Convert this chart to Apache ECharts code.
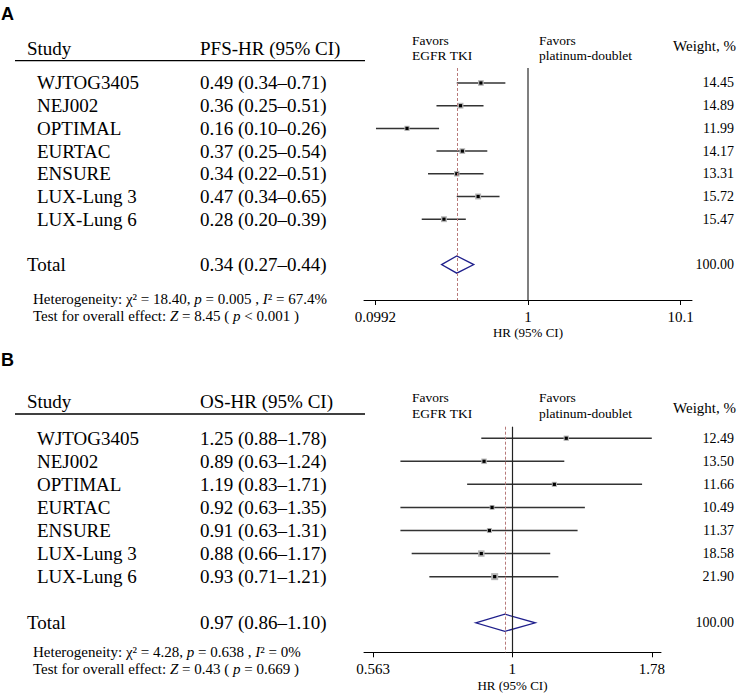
<!DOCTYPE html>
<html>
<head>
<meta charset="utf-8">
<script src="https://cdn.jsdelivr.net/npm/echarts@6/dist/echarts.min.js"></script>
<style>html,body{margin:0;padding:0;background:#fff}#c{width:738px;height:696px}</style>
</head>
<body>
<div id="c"></div>
<script>
// ---- data ----
const studies = ['WJTOG3405', 'NEJ002', 'OPTIMAL', 'EURTAC', 'ENSURE', 'LUX-Lung 3', 'LUX-Lung 6'];
const pfsHR = [0.49, 0.36, 0.16, 0.37, 0.34, 0.47, 0.28];
const pfsLo = [0.34, 0.25, 0.10, 0.25, 0.22, 0.34, 0.20];
const pfsHi = [0.71, 0.51, 0.26, 0.54, 0.51, 0.65, 0.39];
const pfsWeight = [14.45, 14.89, 11.99, 14.17, 13.31, 15.72, 15.47];
const pfsTotal = [0.34, 0.27, 0.44];
const pfsTotalWeight = 100.00;
const pfsTicks = [0.0992, 1, 10.1];
const pfsHet = ['18.40', '0.005', '67.4%'];
const pfsZ = ['8.45', '<', '0.001'];

const osHR = [1.25, 0.89, 1.19, 0.92, 0.91, 0.88, 0.93];
const osLo = [0.88, 0.63, 0.83, 0.63, 0.63, 0.66, 0.71];
const osHi = [1.78, 1.24, 1.71, 1.35, 1.31, 1.17, 1.21];
const osWeight = [12.49, 13.50, 11.66, 10.49, 11.37, 18.58, 21.90];
const osTotal = [0.97, 0.86, 1.10];
const osTotalWeight = 100.00;
const osTicks = [0.563, 1, 1.78];
const osHet = ['4.28', '0.638', '0%'];
const osZ = ['0.43', '=', '0.669'];

// ---- layout ----
const SERIF = '"Liberation Serif", "Times New Roman", serif';
const panels = [
  {label: 'A', hrTitle: 'PFS-HR (95% CI)', hr: pfsHR, lo: pfsLo, hi: pfsHi, w: pfsWeight, total: pfsTotal, tw: pfsTotalWeight,
   ticks: pfsTicks, het: pfsHet, z: pfsZ, axMin: 0.0834, axMax: 12.0,
   grid: {left: 364, width: 328, top: 68, height: 232}, yMin: -0.66, yMax: 9.56,
   refColor: '#7f7f7f', refWidth: 2, labelY: 14, headY: 48, lineY: 60.7, fav1: 40.5, fav2: 55, weightY: 45.5,
   foot1: 299, foot2: 316, nameGap: 26},
  {label: 'B', hrTitle: 'OS-HR (95% CI)', hr: osHR, lo: osLo, hi: osHi, w: osWeight, total: osTotal, tw: osTotalWeight,
   ticks: osTicks, het: osHet, z: osZ, axMin: 0.542, axMax: 1.849,
   grid: {left: 364, width: 297, top: 426.7, height: 225.6}, yMin: -0.5, yMax: 9.28,
   refColor: '#222', refWidth: 1.2, labelY: 360, headY: 401.7, lineY: 414, fav1: 397.7, fav2: 413.3, weightY: 408,
   foot1: 652, foot2: 669, nameGap: 27}
];
const TOTAL_ROW = studies.length + 1;

const chart = echarts.init(document.getElementById('c'), null, {renderer: 'svg'});

const grids = [], xAxes = [], yAxes = [], series = [];
panels.forEach((p, g) => {
  grids.push(Object.assign({outerBoundsMode: 'none', containLabel: false}, p.grid));
  xAxes.push({
    type: 'log', logBase: 10, gridIndex: g, min: p.axMin, max: p.axMax,
    name: 'HR (95% CI)', nameLocation: 'middle', nameGap: p.nameGap,
    nameTextStyle: {fontFamily: SERIF, fontSize: 13, color: '#000'},
    axisLine: {show: true, onZero: false, lineStyle: {color: '#000', width: 1}},
    axisTick: {show: true, length: 5, customValues: p.ticks, lineStyle: {color: '#000', width: 1}},
    axisLabel: {show: true, customValues: p.ticks, margin: 9, fontFamily: SERIF, fontSize: 15, color: '#000',
      formatter: v => String(Number(Number(v).toPrecision(3)))},
    splitLine: {show: false}, minorTick: {show: false}, minorSplitLine: {show: false}
  });
  yAxes.push({type: 'value', gridIndex: g, inverse: true, min: p.yMin, max: p.yMax, show: false});

  const data = studies.map((s, i) => [p.lo[i], p.hi[i], p.hr[i], i, p.w[i]]);
  series.push({
    type: 'custom', xAxisIndex: g, yAxisIndex: g, clip: false, silent: true,
    data: data,
    renderItem: (params, api) => {
      const y = api.value(3);
      const a = api.coord([api.value(0), y]);
      const b = api.coord([api.value(1), y]);
      const c = api.coord([api.value(2), y]);
      const side = 1.5 * Math.sqrt(api.value(4));
      return {type: 'group', children: [
        {type: 'line', shape: {x1: a[0], y1: a[1], x2: b[0], y2: b[1]}, style: {stroke: '#333', lineWidth: 1.5}},
        {type: 'rect', shape: {x: c[0] - side / 2, y: c[1] - side / 2, width: side, height: side}, style: {fill: '#b5b5b5'}},
        {type: 'rect', shape: {x: c[0] - 1.6, y: c[1] - 1.6, width: 3.2, height: 3.2}, style: {fill: '#000'}}
      ]};
    },
    markLine: {
      silent: true, symbol: 'none', label: {show: false}, animation: false,
      data: [
        {xAxis: 1, lineStyle: {color: p.refColor, width: p.refWidth, type: 'solid'}},
        {xAxis: p.total[0], lineStyle: {color: '#b87a7a', width: 1, type: [3, 2]}}
      ]
    }
  });
  series.push({
    type: 'custom', xAxisIndex: g, yAxisIndex: g, clip: false, silent: true,
    data: [[p.total[1], p.total[0], p.total[2], TOTAL_ROW]],
    renderItem: (params, api) => {
      const y = api.value(3);
      const l = api.coord([api.value(0), y]);
      const m = api.coord([api.value(1), y]);
      const r = api.coord([api.value(2), y]);
      const h = 8.6;
      return {type: 'polygon', shape: {points: [[l[0], l[1]], [m[0], m[1] - h], [r[0], r[1]], [m[0], m[1] + h]]},
        style: {fill: 'none', stroke: '#1f1f8c', lineWidth: 1.3}};
    }
  });
});

chart.setOption({animation: false, grid: grids, xAxis: xAxes, yAxis: yAxes, series: series});

// ---- text table ----
const fmt = v => v.toFixed(2);
const graphics = [];
function txt(text, x, y, size, opts) {
  graphics.push({type: 'text', silent: true, style: Object.assign({
    text: text, x: x, y: y, fontSize: size, fontFamily: SERIF, fill: '#000',
    textAlign: 'left', textVerticalAlign: 'middle'}, opts || {})});
}
panels.forEach((p, g) => {
  const rowY = i => chart.convertToPixel({yAxisIndex: g}, i);
  txt(p.label, 1, p.labelY, 18, {fontFamily: '"Liberation Sans", Arial, sans-serif', fontWeight: 'bold'});
  txt('Study', 27, p.headY, 19);
  txt(p.hrTitle, 200, p.headY, 19);
  graphics.push({type: 'line', silent: true, shape: {x1: 15, y1: p.lineY, x2: 365, y2: p.lineY}, style: {stroke: '#000', lineWidth: 1.3}});
  txt('Favors', 412, p.fav1, 13.5);
  txt('EGFR TKI', 412, p.fav2, 13.5);
  txt('Favors', 539, p.fav1, 13.5);
  txt('platinum-doublet', 539, p.fav2, 13.5);
  txt('Weight, %', 736, p.weightY, 15, {textAlign: 'right'});
  studies.forEach((s, i) => {
    const y = rowY(i);
    txt(s, 37, y, 19);
    txt(fmt(p.hr[i]) + ' (' + fmt(p.lo[i]) + '\u2013' + fmt(p.hi[i]) + ')', 200, y, 19);
    txt(fmt(p.w[i]), 734, y, 14, {textAlign: 'right'});
  });
  const ty = rowY(TOTAL_ROW);
  txt('Total', 27, ty, 19);
  txt(fmt(p.total[0]) + ' (' + fmt(p.total[1]) + '\u2013' + fmt(p.total[2]) + ')', 200, ty, 19);
  txt(fmt(p.tw), 734, ty, 14, {textAlign: 'right'});
  const rich = {n: {fontSize: 15, fontFamily: SERIF, fill: '#000'}, i: {fontSize: 15, fontFamily: SERIF, fontStyle: 'italic', fill: '#000'}};
  txt('{n|Heterogeneity: \u03c7\u00b2 = ' + p.het[0] + ', }{i|p}{n| = ' + p.het[1] + ' , }{i|I}{n|\u00b2 = ' + p.het[2] + '}', 33, p.foot1, 15, {rich: rich});
  txt('{n|Test for overall effect: }{i|Z}{n| = ' + p.z[0] + ' ( }{i|p}{n| ' + p.z[1] + ' ' + p.z[2] + ' )}', 33, p.foot2, 15, {rich: rich});
});
chart.setOption({graphic: graphics});
</script>
</body>
</html>
